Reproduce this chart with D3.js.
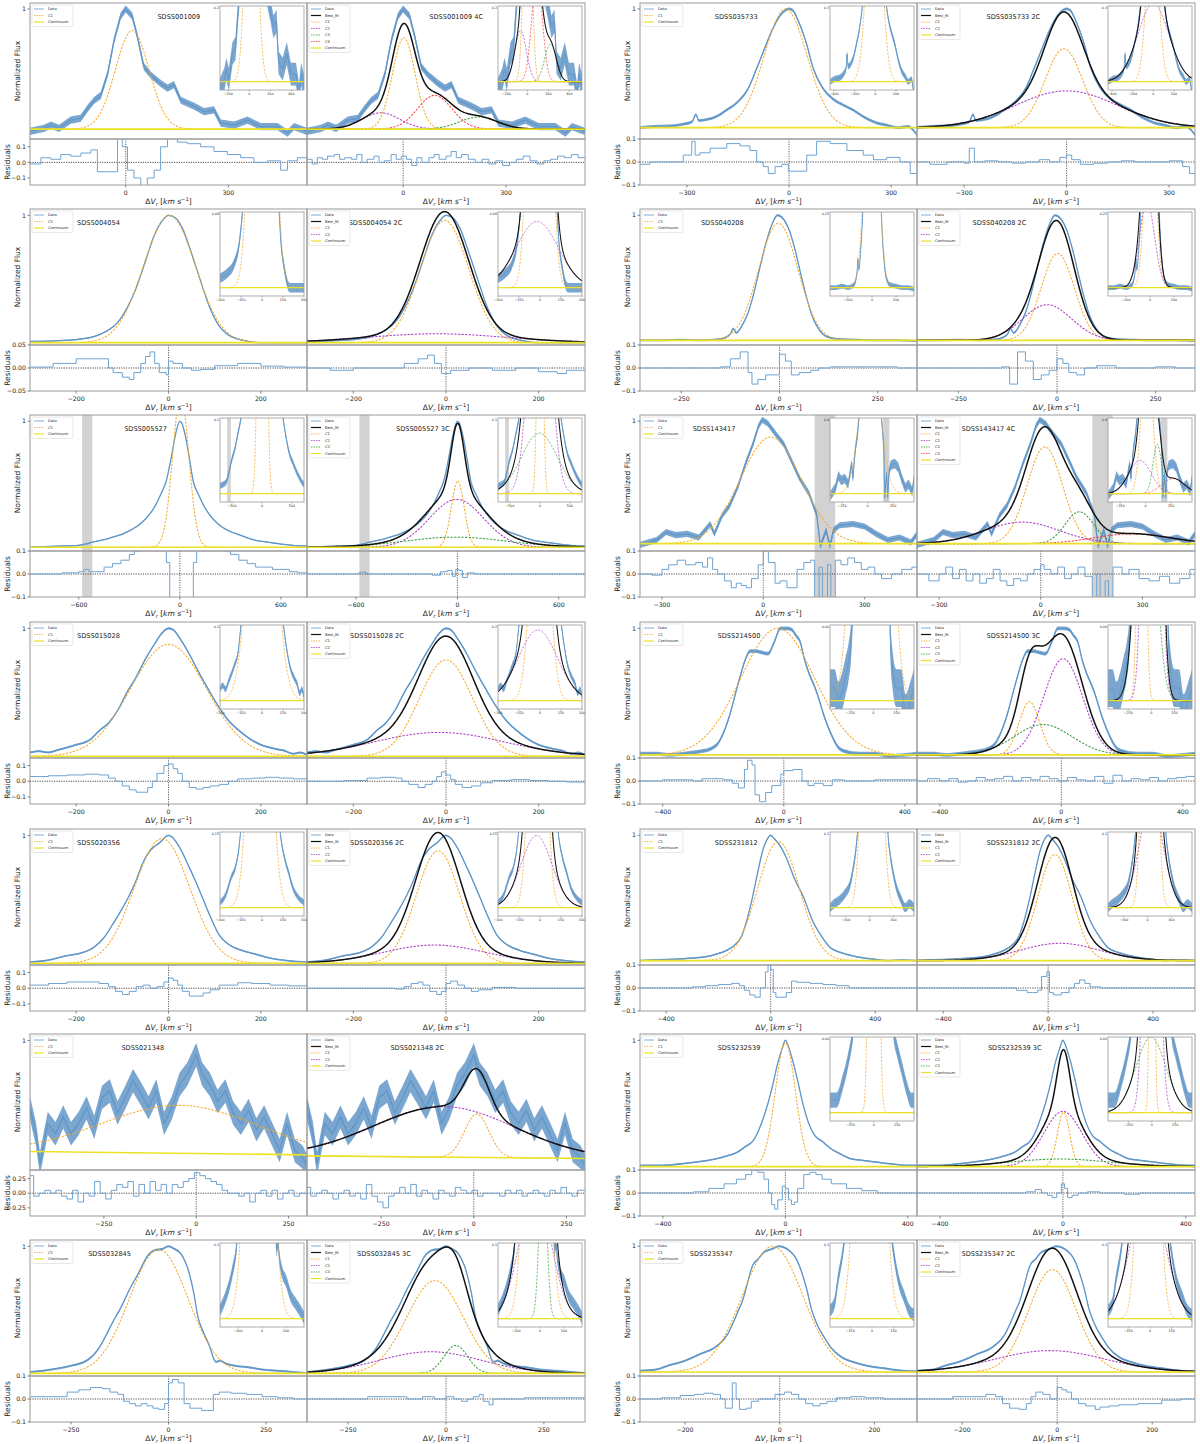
<!DOCTYPE html>
<html>
<head>
<meta charset="utf-8">
<script src="https://cdn.jsdelivr.net/npm/d3@7"></script>
<style>
  body { margin: 0; background: #fff; }
  svg { display: block; }
  text { font-family: "DejaVu Sans", sans-serif; fill: #222; }
</style>
</head>
<body>
<svg id="fig" width="1200" height="1444"></svg>
<script>
// objects, row by row: left column then right column
const names = ["SDSS001009", "SDSS035733", "SDSS004054", "SDSS040208", "SDSS005527", "SDSS143417",
  "SDSS015028", "SDSS214500", "SDSS020356", "SDSS231812", "SDSS021348", "SDSS232539",
  "SDSS032845", "SDSS235347"];

const xDomains = [[-280, 530], [-438, 376], [-300, 300], [-355, 350], [-890, 755], [-365, 455],
  [-300, 300], [-475, 440], [-300, 300], [-500, 560], [-450, 300], [-475, 430], [-355, 355], [-295, 290]];

const xTicks = [[0, 300], [-300, 0, 300], [-200, 0, 200], [-250, 0, 250], [-600, 0, 600], [-300, 0, 300],
  [-200, 0, 200], [-400, 0, 400], [-200, 0, 200], [-400, 0, 400], [-250, 0, 250], [-400, 0, 400],
  [-250, 0, 250], [-200, 0, 200]];

const yLows = [-0.083, -0.095, -0.018, -0.037, -0.03, -0.06, -0.013, -0.024, -0.013, -0.035, 0, -0.027, -0.021, -0.032];

const fluxErr = [0.03, 0.012, 0.005, 0.008, 0.004, 0.025, 0.008, 0.015, 0.006, 0.006, 0.09, 0.006, 0.008, 0.008];

// observed profiles [velocity, normalized flux]
const spectra = [
  [[-280,-0.02],[-239,0.006],[-219,0.033],[-195,0.006],[-161,0.075],[-132,0.088],[-112,0.17],[-92,0.24],[-73,0.28],[-53,0.46],[-34,0.74],[-15,0.94],[0,1.0],[19,0.94],[34,0.77],[53,0.52],[73,0.45],[102,0.38],[122,0.34],[141,0.37],[161,0.24],[200,0.19],[229,0.145],[258,0.16],[278,0.05],[317,0.033],[356,0.075],[395,0.02],[444,0.02],[473,-0.035],[492,0.02],[530,-0.02]],
  [[-438,0.0],[-400,0.01],[-350,0.015],[-310,0.03],[-285,0.05],[-274,0.11],[-265,0.06],[-240,0.07],[-210,0.1],[-183,0.15],[-150,0.22],[-120,0.33],[-95,0.5],[-70,0.68],[-50,0.82],[-30,0.93],[-10,0.99],[0,1.0],[10,0.99],[30,0.88],[50,0.72],[71,0.5],[100,0.33],[130,0.24],[160,0.19],[189,0.148],[220,0.09],[258,0.04],[290,0.02],[320,0.0],[350,0.01],[365,-0.02],[376,-0.06]],
  [[-300,0.01],[-250,0.015],[-200,0.025],[-160,0.05],[-130,0.1],[-110,0.16],[-90,0.27],[-70,0.43],[-50,0.64],[-30,0.85],[-15,0.95],[0,1.0],[15,0.98],[30,0.9],[50,0.7],[70,0.48],[90,0.27],[110,0.13],[130,0.06],[160,0.02],[200,0.0],[250,0.0],[300,0.0]],
  [[-355,0.0],[-300,0.0],[-250,0.005],[-200,0.0],[-150,0.01],[-125,0.05],[-118,0.095],[-110,0.06],[-95,0.12],[-80,0.22],[-65,0.38],[-50,0.58],[-35,0.77],[-20,0.92],[-5,1.0],[10,0.97],[25,0.88],[40,0.72],[55,0.52],[70,0.33],[85,0.18],[100,0.09],[120,0.03],[150,0.01],[200,0.005],[250,0.0],[300,0.0],[350,-0.005]],
  [[-890,0.0],[-800,0.005],[-700,0.01],[-600,0.015],[-560,0.025],[-520,0.04],[-450,0.06],[-400,0.08],[-350,0.1],[-300,0.13],[-250,0.17],[-200,0.23],[-150,0.32],[-110,0.43],[-80,0.53],[-50,0.72],[-25,0.9],[0,1.0],[10,0.99],[30,0.9],[55,0.72],[80,0.52],[110,0.42],[150,0.31],[200,0.22],[250,0.16],[300,0.125],[350,0.1],[400,0.075],[450,0.055],[520,0.04],[600,0.025],[700,0.012],[755,0.01]],
  [[-365,-0.01],[-316,0.03],[-288,0.095],[-259,0.07],[-225,0.08],[-191,0.05],[-157,0.16],[-145,0.08],[-122,0.23],[-100,0.31],[-76,0.46],[-53,0.65],[-31,0.81],[-14,0.96],[-3,1.01],[14,0.98],[38,0.89],[61,0.81],[83,0.68],[106,0.54],[135,0.41],[158,0.24],[169,-0.02],[186,0.11],[197,-0.02],[208,0.11],[226,0.15],[266,0.16],[300,0.14],[334,0.08],[369,0.03],[403,0.05],[437,0.01],[455,0.08]],
  [[-300,0.03],[-280,0.04],[-260,0.03],[-240,0.05],[-200,0.09],[-170,0.13],[-150,0.2],[-130,0.26],[-110,0.36],[-90,0.5],[-70,0.62],[-50,0.76],[-30,0.88],[-15,0.96],[0,1.0],[10,0.99],[25,0.92],[45,0.8],[65,0.66],[90,0.5],[110,0.38],[130,0.28],[150,0.21],[175,0.14],[200,0.09],[230,0.06],[250,0.045],[270,0.02],[285,0.03],[300,0.01]],
  [[-475,0.01],[-420,0.01],[-380,0.0],[-330,0.01],[-300,0.02],[-270,0.03],[-240,0.05],[-215,0.1],[-195,0.2],[-178,0.32],[-158,0.5],[-143,0.63],[-126,0.76],[-111,0.82],[-90,0.82],[-74,0.81],[-52,0.8],[-30,0.9],[-12,1.0],[10,1.0],[26,0.99],[41,0.94],[53,0.9],[70,0.74],[84,0.64],[100,0.55],[111,0.48],[130,0.33],[150,0.2],[165,0.12],[180,0.06],[200,0.03],[250,0.01],[300,0.01],[350,-0.01],[400,0.0],[440,0.01]],
  [[-300,0.01],[-260,0.025],[-220,0.06],[-190,0.08],[-160,0.13],[-140,0.2],[-120,0.31],[-100,0.43],[-85,0.53],[-70,0.65],[-55,0.79],[-40,0.88],[-20,0.94],[0,1.0],[10,0.98],[25,0.9],[45,0.75],[60,0.63],[75,0.5],[90,0.37],[110,0.22],[130,0.15],[160,0.1],[190,0.07],[220,0.04],[260,0.02],[300,0.01]],
  [[-500,0.0],[-450,0.005],[-380,0.01],[-300,0.02],[-250,0.03],[-210,0.05],[-170,0.08],[-140,0.12],[-110,0.2],[-90,0.33],[-70,0.5],[-50,0.7],[-30,0.88],[-10,0.98],[0,1.0],[15,0.97],[35,0.92],[60,0.82],[90,0.66],[127,0.5],[160,0.32],[193,0.2],[230,0.1],[260,0.07],[290,0.05],[330,0.03],[400,0.01],[450,0.0],[500,0.005],[560,0.0]],
  [[-450,0.48],[-434,0.28],[-423,0.05],[-402,0.36],[-381,0.28],[-360,0.41],[-339,0.28],[-318,0.36],[-297,0.48],[-276,0.33],[-255,0.56],[-234,0.61],[-213,0.44],[-192,0.56],[-171,0.69],[-150,0.59],[-129,0.48],[-108,0.61],[-87,0.36],[-66,0.48],[-45,0.66],[-24,0.74],[0,0.89],[16,0.74],[37,0.66],[58,0.53],[79,0.61],[100,0.44],[121,0.36],[142,0.46],[163,0.31],[184,0.41],[205,0.28],[226,0.15],[246,0.36],[267,0.15],[288,0.1],[300,0.03]],
  [[-475,0.01],[-400,0.01],[-330,0.025],[-280,0.04],[-230,0.06],[-190,0.085],[-160,0.11],[-130,0.16],[-107,0.2],[-85,0.3],[-70,0.4],[-57,0.5],[-40,0.66],[-25,0.82],[-10,0.94],[0,1.0],[10,0.95],[25,0.83],[40,0.68],[57,0.5],[75,0.35],[95,0.25],[120,0.2],[150,0.14],[180,0.1],[210,0.065],[250,0.05],[300,0.035],[350,0.02],[400,0.01],[430,0.01]],
  [[-355,0.01],[-300,0.03],[-250,0.06],[-210,0.1],[-180,0.19],[-160,0.3],[-140,0.42],[-125,0.5],[-100,0.66],[-75,0.8],[-55,0.92],[-35,0.97],[-15,0.98],[0,1.0],[15,0.98],[32,0.94],[52,0.8],[65,0.63],[75,0.45],[90,0.32],[107,0.2],[115,0.12],[122,0.09],[132,0.1],[145,0.08],[170,0.06],[200,0.05],[240,0.03],[280,0.02],[320,0.01],[355,0.0]],
  [[-295,0.01],[-260,0.02],[-236,0.05],[-200,0.09],[-170,0.14],[-135,0.2],[-110,0.3],[-95,0.42],[-86,0.5],[-79,0.56],[-70,0.68],[-58,0.84],[-45,0.9],[-34,0.95],[-15,0.98],[-2,1.0],[10,0.99],[22,0.96],[35,0.9],[46,0.8],[57,0.66],[67,0.5],[80,0.37],[95,0.27],[107,0.2],[130,0.12],[155,0.08],[184,0.05],[220,0.03],[260,0.01],[290,0.005]]
];

// continuum level at the two ends of the velocity range
const contSingle = [[0,0],[0,0],[0,0],[0,0],[0,0],[0,0],[0,0],[0,0],[0,0],[0,0],[0.143,0.117],[0,0],[0,0],[0,0]];
const contMulti = [[0,0],[0,0],[0,0],[0,0],[0,0],[0,0],[0,0],[0,0],[0,0],[0,0],[0.109,0.089],[0,0],[0,0],[0,0]];

// gaussian components [amplitude, centre, sigma]
const singleFits = [[0.82, 19, 49], [1.0, -10, 63], [1.0, 2, 56], [0.935, -3, 50], [1.2, 5, 48], [0.87, 22, 90],
  [0.875, 0, 82], [1.0, -20, 122], [0.975, -14, 60], [0.95, 30, 80], [0.37, -45, 210], [0.98, 0, 33],
  [0.975, -25, 75], [1.0, -15, 64]];

const multiFits = [
  [[0.76, 2, 33], [0.135, -65, 55], [0.10, 220, 55], [0.28, 92, 50]],
  [[0.665, -8, 55], [0.31, 0, 150]],
  [[0.96, -3, 52], [0.07, -20, 150]],
  [[0.695, 2, 42], [0.285, -25, 62]],
  [[0.525, 2, 38], [0.38, -5, 160], [0.08, -10, 300]],
  [[0.79, 12, 52], [0.176, -55, 110], [0.26, 114, 42], [0.08, 270, 110]],
  [[0.754, 0, 57], [0.187, -15, 140]],
  [[0.42, -105, 34], [0.76, 6, 64], [0.24, -60, 95]],
  [[0.88, -17, 47], [0.143, -25, 110]],
  [[0.846, 26, 65], [0.138, 45, 150]],
  [[0.335, 8, 33], [0.39, -80, 190]],
  [[0.43, 2, 20], [0.437, 0, 62], [0.06, -10, 160]],
  [[0.73, -28, 72], [0.17, -40, 130], [0.22, 25, 30]],
  [[0.815, -10, 50], [0.17, -15, 115]]
];

const residDomains = [[-0.145, 0.15], [-0.1, 0.1], [-0.05, 0.05], [-0.1, 0.1], [-0.1, 0.1], [-0.1, 0.1],
  [-0.145, 0.148], [-0.1, 0.1], [-0.145, 0.148], [-0.1, 0.1], [-0.39, 0.397], [-0.1, 0.1], [-0.1, 0.1], [-0.1, 0.1]];

const residTicks = [[0.1, 0, -0.1], [0.1, 0, -0.1], [0.05, 0, -0.05], [0.1, 0, -0.1], [0.1, 0, -0.1], [0.1, 0, -0.1],
  [0.1, 0, -0.1], [0.1, 0, -0.1], [0.1, 0, -0.1], [0.1, 0, -0.1], [0.25, 0, -0.25], [0.1, 0, -0.1], [0.1, 0, -0.1], [0.1, 0, -0.1]];

// residual steps [bin start velocity, residual]
const residSingle = [
  [[-280,-0.01],[-248,0.03],[-219,0.02],[-190,0.05],[-161,0.04],[-131,0.06],[-102,0.08],[-83,-0.06],[-44,-0.06],[-24,0.16],[-10,0.1],[5,-0.05],[24,-0.1],[44,-0.15],[63,-0.1],[83,-0.05],[102,0.1],[122,0.16],[151,0.13],[180,0.12],[219,0.1],[258,0.07],[297,0.05],[336,0.03],[375,0.0],[414,0.01],[453,-0.05],[473,0.01],[502,0.03]],
  [[-440,-0.01],[-409,0.0],[-311,0.03],[-286,0.09],[-276,0.03],[-262,0.04],[-232,0.06],[-183,0.08],[-144,0.07],[-115,0.05],[-95,0.0],[-76,-0.02],[-61,-0.05],[-41,-0.02],[-21,-0.01],[-2,-0.04],[32,-0.04],[52,0.03],[81,0.09],[121,0.08],[170,0.05],[218,0.03],[248,0.01],[287,0.02],[326,0.0],[356,-0.05]],
  [[-300,0.002],[-250,0.01],[-200,0.02],[-150,0.02],[-130,0.0],[-120,-0.01],[-100,-0.02],[-85,-0.025],[-75,-0.01],[-60,0.01],[-50,0.025],[-40,0.035],[-30,0.01],[-20,-0.01],[-5,-0.015],[0,0.015],[10,0.01],[30,0.0],[50,-0.005],[70,-0.003],[100,0.005],[150,0.01],[200,0.004],[250,0.002]],
  [[-355,0.0],[-200,0.0],[-150,0.005],[-125,0.04],[-100,0.07],[-80,-0.02],[-70,-0.07],[-55,-0.05],[-35,-0.03],[0,0.06],[15,0.03],[30,-0.03],[50,-0.02],[80,-0.01],[100,0.0],[130,0.005],[200,0.005],[300,0.0]],
  [[-890,0.0],[-700,0.005],[-600,0.01],[-570,0.02],[-540,0.01],[-450,0.03],[-400,0.045],[-350,0.06],[-300,0.085],[-270,0.1],[-230,0.14],[-200,0.2],[-160,0.26],[-130,0.3],[-100,0.2],[-80,0.05],[-60,-0.15],[-40,-0.25],[0,-0.2],[40,-0.25],[60,-0.15],[80,0.05],[100,0.2],[130,0.3],[160,0.26],[200,0.2],[230,0.14],[270,0.1],[300,0.085],[350,0.06],[400,0.045],[450,0.03],[550,0.02],[650,0.01],[700,0.005]],
  [[-365,0.0],[-330,-0.005],[-300,0.02],[-280,0.04],[-255,0.06],[-230,0.04],[-200,0.05],[-180,0.03],[-165,0.07],[-150,0.02],[-135,0.0],[-115,-0.03],[-95,-0.06],[-80,-0.04],[-65,-0.05],[-50,-0.06],[-35,-0.02],[-15,0.04],[0,0.1],[15,0.05],[35,-0.04],[50,-0.03],[70,-0.06],[85,-0.06],[100,0.02],[120,0.05],[140,0.06],[152,-0.2],[165,0.03],[175,-0.2],[190,0.04],[200,-0.2],[213,0.06],[230,0.04],[250,0.07],[270,0.05],[290,0.02],[310,0.03],[330,0.0],[350,-0.02],[380,0.0],[410,0.02],[440,0.03]],
  [[-300,0.03],[-260,0.035],[-220,0.04],[-180,0.045],[-150,0.04],[-130,0.02],[-115,0.0],[-100,-0.03],[-85,-0.055],[-70,-0.07],[-55,-0.07],[-45,-0.04],[-35,0.0],[-25,0.05],[-10,0.1],[0,0.11],[10,0.08],[20,0.05],[30,0.0],[45,-0.04],[60,-0.05],[75,-0.04],[90,-0.03],[110,-0.02],[130,0.0],[150,0.015],[180,0.02],[210,0.025],[240,0.02],[270,0.015]],
  [[-475,0.0],[-400,0.005],[-300,0.0],[-270,0.01],[-240,0.01],[-200,0.005],[-170,-0.01],[-150,-0.03],[-130,0.05],[-120,0.09],[-105,0.07],[-95,-0.06],[-80,-0.09],[-60,-0.05],[-40,-0.02],[-10,0.03],[0,0.045],[30,0.05],[60,0.0],[80,-0.02],[100,-0.01],[130,-0.02],[160,0.005],[200,0.0],[300,0.005]],
  [[-300,0.02],[-260,0.03],[-220,0.04],[-180,0.04],[-150,0.03],[-130,0.01],[-115,-0.02],[-100,-0.04],[-85,-0.02],[-70,0.01],[-55,0.02],[-40,0.0],[-25,0.01],[-10,0.04],[0,0.065],[10,0.05],[20,0.02],[30,-0.02],[45,-0.05],[60,-0.05],[75,-0.03],[90,-0.01],[110,0.02],[150,0.035],[180,0.03],[220,0.02],[260,0.015]],
  [[-500,0.0],[-400,0.0],[-300,0.005],[-250,0.01],[-200,0.015],[-150,0.02],[-120,0.01],[-100,-0.01],[-80,-0.03],[-60,-0.04],[-40,0.0],[-20,0.07],[-10,0.1],[0,0.08],[10,-0.02],[20,-0.04],[40,-0.04],[60,-0.02],[80,0.03],[100,0.025],[150,0.02],[200,0.015],[250,0.01],[300,0.0],[400,0.0]],
  [[-450,0.3],[-440,-0.05],[-425,0.0],[-410,0.05],[-395,0.0],[-380,0.05],[-365,-0.05],[-350,-0.1],[-335,0.05],[-320,-0.15],[-305,0.0],[-290,-0.05],[-275,0.2],[-260,0.0],[-245,-0.1],[-230,0.05],[-215,0.15],[-200,0.1],[-185,0.2],[-170,-0.05],[-155,0.15],[-140,0.0],[-125,0.2],[-110,0.05],[-95,0.15],[-80,0.0],[-65,0.15],[-50,0.1],[-35,0.2],[-20,0.25],[-5,0.35],[10,0.3],[25,0.25],[40,0.2],[55,0.15],[70,0.05],[85,0.0],[100,0.0],[115,-0.05],[130,0.0],[145,-0.15],[160,0.0],[175,0.05],[190,-0.05],[205,0.05],[220,-0.1],[235,0.0],[250,0.05],[265,-0.05],[280,0.0]],
  [[-475,0.0],[-350,0.0],[-300,0.005],[-250,0.02],[-200,0.04],[-160,0.06],[-130,0.08],[-110,0.1],[-90,0.09],[-70,0.06],[-55,0.0],[-45,-0.05],[-35,-0.07],[-25,-0.03],[-10,0.03],[0,0.02],[10,-0.03],[20,-0.05],[30,-0.04],[40,0.02],[60,0.08],[80,0.09],[100,0.08],[120,0.06],[150,0.04],[200,0.02],[250,0.01],[300,0.0]],
  [[-355,0.01],[-300,0.01],[-260,0.03],[-230,0.04],[-200,0.05],[-170,0.045],[-150,0.03],[-130,0.02],[-115,-0.01],[-100,-0.02],[-85,-0.03],[-70,-0.02],[-55,-0.03],[-40,-0.04],[-25,-0.045],[-10,-0.02],[0,0.07],[10,0.085],[25,0.07],[40,-0.02],[55,-0.04],[70,-0.04],[85,-0.05],[100,-0.05],[115,0.02],[130,0.03],[160,0.025],[200,0.02],[240,0.01],[280,0.005],[320,0.0]],
  [[-295,0.0],[-250,0.005],[-210,0.015],[-180,0.02],[-160,0.025],[-140,0.02],[-125,0.0],[-115,-0.04],[-100,0.07],[-92,0.0],[-85,-0.045],[-70,-0.04],[-60,-0.01],[-45,0.0],[-30,0.0],[-10,0.02],[10,0.03],[25,0.02],[40,0.0],[55,-0.02],[70,-0.03],[85,-0.02],[100,-0.01],[120,0.005],[150,0.01],[180,0.005],[220,0.0]]
];

const residMulti = [
  [[-280,0.02],[-265,-0.01],[-250,0.03],[-235,0.02],[-220,0.04],[-200,0.05],[-185,0.02],[-170,0.03],[-150,0.02],[-135,0.05],[-120,0.0],[-105,0.02],[-85,0.04],[-70,0.0],[-55,0.01],[-35,0.05],[-20,0.02],[-5,0.04],[10,0.02],[25,-0.02],[40,0.03],[55,0.0],[75,0.03],[90,0.05],[105,0.02],[125,0.04],[140,0.07],[155,0.03],[170,0.05],[190,0.02],[210,0.0],[230,0.02],[250,-0.01],[270,0.01],[290,-0.02],[310,0.0],[330,0.02],[350,0.04],[370,0.01],[390,-0.01],[410,0.01],[430,0.02],[450,0.04],[470,0.03],[490,0.05],[510,0.03]],
  [[-440,0.0],[-400,-0.01],[-350,0.0],[-300,-0.005],[-285,0.06],[-270,0.0],[-240,0.005],[-200,0.0],[-160,-0.005],[-120,0.0],[-80,0.01],[-50,0.0],[-20,0.02],[0,0.03],[15,0.01],[40,-0.01],[80,-0.005],[120,0.0],[160,0.005],[200,0.0],[250,0.0],[300,0.005],[340,-0.02],[360,-0.05]],
  [[-300,0.0],[-250,-0.005],[-200,0.0],[-120,0.0],[-90,0.01],[-60,0.02],[-40,0.028],[-25,0.01],[-10,-0.012],[10,-0.005],[50,0.0],[100,-0.005],[150,0.0],[200,-0.008],[240,-0.012],[260,-0.005]],
  [[-355,0.0],[-200,0.0],[-140,0.005],[-120,-0.07],[-100,0.07],[-80,0.03],[-60,-0.05],[-40,-0.03],[-20,-0.01],[0,0.04],[15,0.02],[30,-0.02],[50,-0.03],[70,0.0],[100,0.01],[150,0.0],[250,0.005],[300,0.0]],
  [[-890,0.0],[-600,0.0],[-580,0.008],[-540,0.0],[-300,0.0],[-150,-0.005],[-100,0.01],[-60,0.015],[-30,-0.01],[-10,0.02],[10,0.015],[30,-0.015],[60,0.005],[100,0.0],[300,0.0]],
  [[-365,0.0],[-330,-0.03],[-300,0.0],[-280,0.03],[-260,-0.02],[-240,0.02],[-220,-0.03],[-200,0.0],[-180,-0.04],[-160,-0.02],[-140,0.02],[-120,-0.03],[-100,-0.05],[-80,-0.02],[-60,-0.03],[-40,0.0],[-20,0.02],[0,0.04],[10,0.02],[30,0.0],[50,0.03],[70,-0.02],[90,0.0],[110,0.03],[130,-0.01],[152,-0.12],[165,0.0],[175,-0.12],[190,-0.03],[200,-0.12],[213,0.03],[240,0.0],[260,0.02],[290,-0.02],[320,-0.03],[350,-0.01],[380,-0.04],[410,-0.02],[440,0.02]],
  [[-300,0.0],[-220,0.005],[-170,0.02],[-140,0.025],[-110,0.02],[-95,0.0],[-80,-0.02],[-60,-0.04],[-45,-0.02],[-30,0.0],[-20,0.03],[-10,0.06],[0,0.04],[10,0.01],[20,-0.02],[35,-0.04],[55,-0.03],[75,-0.01],[100,0.005],[140,0.01],[180,0.005],[220,0.0],[260,-0.005]],
  [[-475,0.0],[-440,0.01],[-400,0.0],[-370,0.01],[-340,-0.005],[-310,0.0],[-280,0.015],[-250,0.005],[-220,0.01],[-190,0.02],[-160,0.0],[-130,0.015],[-100,0.005],[-70,0.02],[-40,0.01],[-10,0.0],[20,0.015],[50,0.005],[80,0.0],[110,0.02],[140,-0.01],[170,0.025],[200,0.0],[230,0.01],[260,0.005],[290,0.015],[320,0.0],[350,0.01],[380,0.015],[410,0.02]],
  [[-300,0.0],[-200,0.0],[-110,-0.005],[-90,0.01],[-75,0.03],[-60,0.04],[-50,0.02],[-35,-0.02],[-20,-0.04],[-10,-0.02],[0,0.03],[10,0.045],[25,0.02],[40,0.0],[55,-0.02],[70,-0.01],[100,0.005],[150,0.0]],
  [[-500,0.0],[-200,0.0],[-120,-0.01],[-80,-0.02],[-60,-0.02],[-40,-0.01],[-25,0.05],[-5,0.07],[5,-0.02],[20,-0.03],[50,-0.02],[80,0.0],[100,0.02],[120,0.035],[140,0.02],[160,0.005],[200,0.0],[300,0.0]],
  [[-450,0.1],[-440,-0.05],[-425,0.0],[-410,0.05],[-395,0.0],[-380,-0.1],[-365,0.0],[-350,0.05],[-335,-0.05],[-320,0.0],[-305,-0.1],[-290,0.15],[-275,-0.05],[-260,-0.15],[-245,-0.25],[-230,-0.05],[-215,0.0],[-200,0.1],[-185,0.0],[-170,0.15],[-155,-0.05],[-140,0.05],[-125,0.0],[-110,-0.1],[-95,0.05],[-80,0.0],[-65,-0.05],[-50,0.1],[-35,0.05],[-20,0.0],[-5,0.05],[10,-0.05],[25,0.0],[40,0.0],[55,0.0],[70,-0.05],[85,0.05],[100,0.0],[115,0.05],[130,-0.05],[145,0.0],[160,0.05],[175,0.0],[190,-0.05],[205,0.05],[220,0.0],[235,0.1],[250,0.0],[265,-0.05],[280,0.05]],
  [[-475,0.0],[-150,0.0],[-120,0.005],[-90,0.015],[-70,0.0],[-50,-0.01],[-35,-0.02],[-20,0.0],[-5,0.04],[5,0.02],[15,-0.02],[30,-0.01],[50,0.0],[80,0.005],[120,0.0],[200,-0.005],[250,0.0]],
  [[-355,0.0],[-250,0.0],[-200,0.01],[-150,0.01],[-100,0.0],[-60,0.01],[-30,0.0],[0,0.01],[20,0.0],[40,-0.01],[55,0.0],[70,0.01],[85,0.02],[95,-0.01],[110,-0.025],[120,0.0],[200,0.005]],
  [[-295,0.0],[-250,0.0],[-220,0.01],[-180,0.01],[-150,0.02],[-130,0.01],[-115,-0.02],[-100,-0.04],[-80,-0.045],[-65,-0.02],[-55,0.01],[-45,0.03],[-30,0.02],[-15,0.0],[0,0.05],[10,0.04],[20,0.03],[30,0.0],[45,-0.02],[60,-0.03],[80,-0.045],[90,-0.035],[110,-0.03],[130,-0.025],[170,-0.02],[220,-0.005],[260,0.0]]
];

// excluded velocity ranges
const masks = [null, null, null, null, [-580, -520], [152, 213], null, null, null, null, null, null, null, null];

// zoomed insets
const insetX = [[-280, 520], [-440, 375], [-300, 300], [-350, 350], [-700, 700], [-370, 455], [-300, 300],
  [-470, 440], [-300, 300], [-500, 560], null, [-470, 430], [-350, 350], [-290, 290]];
const insetXTicks = [[-200, 0, 200, 400], [-400, -200, 0, 200], [-300, -150, 0, 150, 300], [-200, 0, 200], [-500, 0, 500],
  [-250, 0, 250], [-300, -150, 0, 150, 300], [-250, 0, 250], [-300, -150, 0, 150, 300], [-300, 0, 300], null,
  [-250, 0, 250], [-200, 0, 200], [-150, 0, 150]];
const insetYTop = [0.2, 0.3, 0.08, 0.25, 0.1, 0.4, 0.2, 0.06, 0.15, 0.1, null, 0.06, 0.1, 0.1];

// layout
const rowTops = [3, 209, 415, 622, 829, 1034, 1240];
const colFrames = [[30, 307, 585], [640, 917, 1195]];
const nameFrac = [[0.46, 0.44], [0.27, 0.25], [0.17, 0.15], [0.22, 0.20], [0.34, 0.32], [0.19, 0.16], [0.17, 0.155],
  [0.28, 0.25], [0.17, 0.155], [0.27, 0.25], [0.33, 0.30], [0.28, 0.255], [0.21, 0.18], [0.18, 0.16]];
const MAIN_H = 136, RES_H = 46, INSET = 84;

const DATA = "#5f97c9", BAND = "#4f88c0", CONT = "#ece225", FRAME = "#9a9a9a";
const compColors = ["#f7a928", "#a93fc4", "#3a9e3a", "#ff3d3d"];

const svg = d3.select("#fig");
svg.append("rect").attr("width", 1200).attr("height", 1444).attr("fill", "#fff");
const defs = svg.append("defs");
let clipCount = 0;
function clipRect(x, y, w, h) {
  const id = "clip" + (clipCount++);
  defs.append("clipPath").attr("id", id).append("rect").attr("x", x).attr("y", y).attr("width", w).attr("height", h);
  return id;
}

const gauss = (p, v) => p[0] * Math.exp(-((v - p[1]) ** 2) / (2 * p[2] * p[2]));

function drawSpectrum(g, i, multi, x, y, lw) {
  const dom = xDomains[i];
  const cont = multi ? contMulti[i] : contSingle[i];
  const contAt = v => cont[0] + (cont[1] - cont[0]) * (v - dom[0]) / (dom[1] - dom[0]);
  const comps = multi ? multiFits[i] : [singleFits[i]];
  const grid = d3.range(401).map(k => dom[0] + (dom[1] - dom[0]) * k / 400);
  const line = d3.line().x(d => x(d[0])).y(d => y(d[1]));
  if (masks[i]) {
    g.append("rect").attr("x", x(masks[i][0])).attr("width", x(masks[i][1]) - x(masks[i][0]))
      .attr("y", y.range()[1]).attr("height", y.range()[0] - y.range()[1]).attr("fill", "#d2d2d2");
  }
  const e = fluxErr[i];
  // noisy profiles keep their jagged look, smooth ones are drawn smooth
  const curve = e >= 0.02 ? d3.curveLinear : d3.curveMonotoneX;
  g.append("path").datum(spectra[i]).attr("fill", BAND).attr("fill-opacity", 0.75)
    .attr("d", d3.area().curve(curve).x(d => x(d[0])).y0(d => y(d[1] - e)).y1(d => y(d[1] + e)));
  g.append("path").datum(spectra[i]).attr("fill", "none").attr("stroke", DATA).attr("stroke-width", lw)
    .attr("d", d3.line().curve(curve).x(d => x(d[0])).y(d => y(d[1])));
  comps.forEach((p, k) => {
    g.append("path").datum(grid.map(v => [v, contAt(v) + gauss(p, v)]))
      .attr("fill", "none").attr("stroke", compColors[k]).attr("stroke-width", lw * 0.8)
      .attr("stroke-dasharray", "2.2,1.4").attr("d", line);
  });
  if (multi) {
    g.append("path").datum(grid.map(v => [v, contAt(v) + d3.sum(comps, p => gauss(p, v))]))
      .attr("fill", "none").attr("stroke", "#111").attr("stroke-width", lw * 1.15).attr("d", line);
  }
  g.append("path").datum(dom.map(v => [v, contAt(v)]))
    .attr("fill", "none").attr("stroke", CONT).attr("stroke-width", lw * 1.3).attr("d", line);
}

function drawLegend(x0, top, multi, i) {
  const entries = [{ label: "Data", color: DATA, w: 0.8 }];
  if (multi) entries.push({ label: "Best_fit", color: "#111", w: 1.2 });
  (multi ? multiFits[i] : [singleFits[i]]).forEach((p, k) =>
    entries.push({ label: "C" + (k + 1), color: compColors[k], w: 0.8, dash: "1.5,1" }));
  entries.push({ label: "Continuum", color: CONT, w: 1.2 });
  const lg = svg.append("g");
  lg.append("rect").attr("x", x0 + 2).attr("y", top + 2).attr("width", 41).attr("height", entries.length * 6.5 + 2)
    .attr("rx", 1.5).attr("fill", "#fff").attr("fill-opacity", 0.85).attr("stroke", "#d8d8d8").attr("stroke-width", 0.6);
  entries.forEach((en, k) => {
    const yy = top + 6 + k * 6.5;
    lg.append("line").attr("x1", x0 + 4).attr("x2", x0 + 14).attr("y1", yy).attr("y2", yy)
      .attr("stroke", en.color).attr("stroke-width", en.w).attr("stroke-dasharray", en.dash || null);
    lg.append("text").attr("x", x0 + 18).attr("y", yy + 1.3).attr("font-size", 3.7).text(en.label);
  });
}

function drawInset(i, multi, ix, iy) {
  const xi = d3.scaleLinear().domain(insetX[i]).range([ix, ix + INSET]);
  const hi = insetYTop[i];
  const yi = d3.scaleLinear().domain([-0.11 * hi, hi]).range([iy + INSET, iy]);
  svg.append("rect").attr("x", ix).attr("y", iy).attr("width", INSET).attr("height", INSET).attr("fill", "#fff");
  const g = svg.append("g").attr("clip-path", `url(#${clipRect(ix, iy, INSET, INSET)})`);
  drawSpectrum(g, i, multi, xi, yi, 0.9);
  svg.append("rect").attr("x", ix).attr("y", iy).attr("width", INSET).attr("height", INSET)
    .attr("fill", "none").attr("stroke", FRAME).attr("stroke-width", 0.8);
  insetXTicks[i].forEach(t => {
    svg.append("line").attr("x1", xi(t)).attr("x2", xi(t)).attr("y1", iy + INSET).attr("y2", iy + INSET + 1.5)
      .attr("stroke", "#555").attr("stroke-width", 0.4);
    svg.append("text").attr("x", xi(t)).attr("y", iy + INSET + 5).attr("text-anchor", "middle")
      .attr("font-size", 3.3).text(d3.format("")(t).replace("-", "−"));
  });
  svg.append("text").attr("x", ix - 1).attr("y", iy + 2.5).attr("text-anchor", "end")
    .attr("font-size", 3.3).text(hi);
}

function xLabel(cx, by) {
  const t = svg.append("text").attr("x", cx).attr("y", by).attr("text-anchor", "middle").attr("font-size", 7.5);
  t.append("tspan").text("Δ");
  t.append("tspan").attr("font-style", "italic").text("V");
  t.append("tspan").attr("font-style", "italic").attr("font-size", 5.2).attr("dy", 1.6).text("r");
  t.append("tspan").attr("dy", -1.6).text(" [");
  t.append("tspan").attr("font-style", "italic").text("km s");
  t.append("tspan").attr("font-size", 5.2).attr("dy", -3).text("−1");
  t.append("tspan").attr("dy", 3).text("]");
}

function drawPanel(i, multi, x0, x1, top) {
  const dom = xDomains[i];
  const x = d3.scaleLinear().domain(dom).range([x0, x1]);
  const y = d3.scaleLinear().domain([yLows[i], 1.05]).range([top + MAIN_H, top]);
  const yr = d3.scaleLinear().domain(residDomains[i]).range([top + MAIN_H + RES_H, top + MAIN_H]);
  const bottom = top + MAIN_H + RES_H;

  const gm = svg.append("g").attr("clip-path", `url(#${clipRect(x0, top, x1 - x0, MAIN_H)})`);
  drawSpectrum(gm, i, multi, x, y, 1.3);

  const label = multi ? `${names[i]} ${multiFits[i].length}C` : names[i];
  svg.append("text").attr("x", x0 + nameFrac[i][multi ? 1 : 0] * (x1 - x0)).attr("y", top + 15.5)
    .attr("font-size", 6.6).text(label);
  drawLegend(x0, top, multi, i);
  if (insetX[i]) drawInset(i, multi, x1 - 3 - INSET, top + 3);

  // residuals
  const gr = svg.append("g").attr("clip-path", `url(#${clipRect(x0, top + MAIN_H, x1 - x0, RES_H)})`);
  if (masks[i]) {
    gr.append("rect").attr("x", x(masks[i][0])).attr("width", x(masks[i][1]) - x(masks[i][0]))
      .attr("y", top + MAIN_H).attr("height", RES_H).attr("fill", "#d2d2d2");
  }
  gr.append("line").attr("x1", x0).attr("x2", x1).attr("y1", yr(0)).attr("y2", yr(0))
    .attr("stroke", "#222").attr("stroke-width", 0.8).attr("stroke-dasharray", "1.2,1.2");
  gr.append("line").attr("x1", x(0)).attr("x2", x(0)).attr("y1", top + MAIN_H).attr("y2", bottom)
    .attr("stroke", "#222").attr("stroke-width", 0.7).attr("stroke-dasharray", "1.2,1.2");
  const rs = multi ? residMulti[i] : residSingle[i];
  const steps = rs.concat([[dom[1], rs[rs.length - 1][1]]]);
  gr.append("path").datum(steps).attr("fill", "none").attr("stroke", "#6fa3d2").attr("stroke-width", 1)
    .attr("d", d3.line().curve(d3.curveStepAfter).x(d => x(d[0])).y(d => yr(d[1])));

  // frames
  svg.append("rect").attr("x", x0).attr("y", top).attr("width", x1 - x0).attr("height", MAIN_H)
    .attr("fill", "none").attr("stroke", FRAME).attr("stroke-width", 1);
  svg.append("rect").attr("x", x0).attr("y", top + MAIN_H).attr("width", x1 - x0).attr("height", RES_H)
    .attr("fill", "none").attr("stroke", FRAME).attr("stroke-width", 1);

  // x axis
  xTicks[i].forEach(t => {
    svg.append("line").attr("x1", x(t)).attr("x2", x(t)).attr("y1", bottom).attr("y2", bottom + 2.5)
      .attr("stroke", "#555").attr("stroke-width", 0.7);
    svg.append("text").attr("x", x(t)).attr("y", bottom + 9.5).attr("text-anchor", "middle")
      .attr("font-size", 6.2).text(d3.format("")(t).replace("-", "−"));
  });
  xLabel((x0 + x1) / 2, bottom + 19);

  if (!multi) {
    svg.append("line").attr("x1", x0 - 2.5).attr("x2", x0).attr("y1", y(1)).attr("y2", y(1))
      .attr("stroke", "#555").attr("stroke-width", 0.7);
    svg.append("text").attr("x", x0 - 4).attr("y", y(1) + 2.2).attr("text-anchor", "end")
      .attr("font-size", 6.2).text("1");
    const rt = residTicks[i];
    const fmt = d3.format(Math.abs((rt[0] * 10) % 1) > 1e-9 ? ".2f" : ".1f");
    rt.forEach(t => {
      svg.append("line").attr("x1", x0 - 2.5).attr("x2", x0).attr("y1", yr(t)).attr("y2", yr(t))
        .attr("stroke", "#555").attr("stroke-width", 0.7);
      svg.append("text").attr("x", x0 - 4).attr("y", yr(t) + 2.2).attr("text-anchor", "end")
        .attr("font-size", 6.2).text(fmt(t));
    });
    svg.append("text").attr("transform", `translate(${x0 - 13},${top + MAIN_H / 2}) rotate(-90)`)
      .attr("text-anchor", "middle").attr("dy", "0.35em").attr("font-size", 7.5).text("Normalized Flux");
    svg.append("text").attr("transform", `translate(${x0 - 23},${top + MAIN_H + RES_H / 2}) rotate(-90)`)
      .attr("text-anchor", "middle").attr("dy", "0.35em").attr("font-size", 7.5).text("Residuals");
  }
}

names.forEach((name, i) => {
  const top = rowTops[Math.floor(i / 2)];
  const [a, b, c] = colFrames[i % 2];
  drawPanel(i, false, a, b, top);
  drawPanel(i, true, b, c, top);
});
</script>
</body>
</html>
